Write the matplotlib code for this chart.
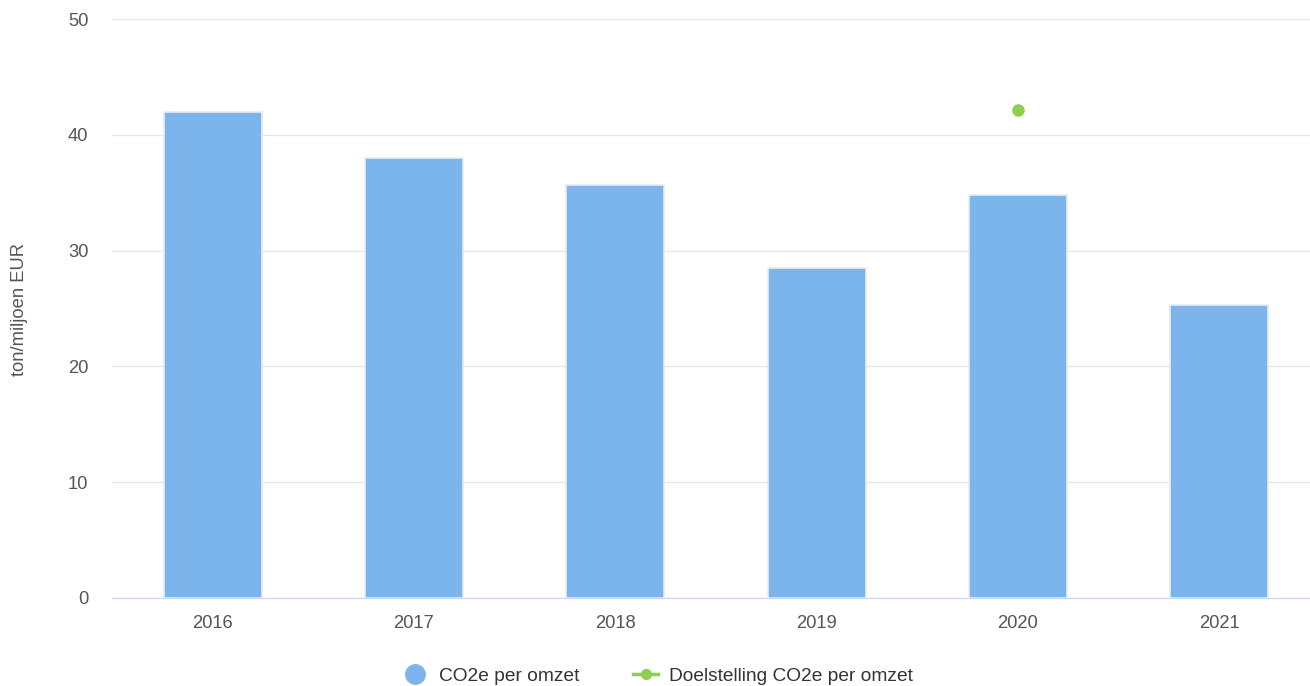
import matplotlib
matplotlib.use("Agg")
import matplotlib.pyplot as plt
from matplotlib.lines import Line2D

plt.rcParams['font.family'] = ['Liberation Sans', 'DejaVu Sans']

years = ["2016", "2017", "2018", "2019", "2020", "2021"]
co2_per_omzet = [42.0, 38.0, 35.7, 28.5, 34.8, 25.3]
target_years = ["2020"]
target_values = [42.1]

bar_color = "#7cb5ec"
green = "#8fce4f"
text_color = "#555555"

W, H = 1310, 686
fig = plt.figure(figsize=(W/100, H/100), dpi=100)
ax = fig.add_axes([112/W, (H-598)/H, (1310-112)/W, (598-19)/H])

x = list(range(len(years)))
ax.bar(x, co2_per_omzet, width=0.487, color=bar_color, edgecolor="#e8ecf2", linewidth=1.2, zorder=3)
tx = [years.index(y) for y in target_years]
ax.plot(tx, target_values, 'o', color=green, markersize=8, zorder=4)

ax.set_xlim(-0.5, 5.451)
ax.set_ylim(0, 50)
ax.set_yticks([0, 10, 20, 30, 40, 50])
ax.set_xticks(x)
ax.set_xticklabels(years)
ax.grid(axis='y', color="#e6e6e6", linewidth=1, zorder=0)
for s in ['top', 'right', 'left']:
    ax.spines[s].set_visible(False)
ax.spines['bottom'].set_color("#ccd6eb")
ax.tick_params(axis='both', length=0, labelsize=13.2, colors=text_color)
ax.tick_params(axis='y', pad=17)
ax.tick_params(axis='x', pad=12)
fig.text(20/W, 1 - 309/H, "ton/miljoen EUR", rotation=90, ha='center', va='center',
         fontsize=13.2, color=text_color)

handles = [
    Line2D([], [], marker='o', linestyle='none', color=bar_color, markersize=14),
    Line2D([], [], marker='o', linestyle='-', color=green, markersize=7, linewidth=2.5),
]
fig.legend(handles, ["CO2e per omzet", "Doelstelling CO2e per omzet"],
           loc='center', bbox_to_anchor=(658/W, 1 - 676/H), ncol=2, frameon=False,
           fontsize=13.8, labelcolor="#333333", handlelength=1.3, columnspacing=2.8, handletextpad=0.6)

fig.savefig("out.png", dpi=100, facecolor="white")
